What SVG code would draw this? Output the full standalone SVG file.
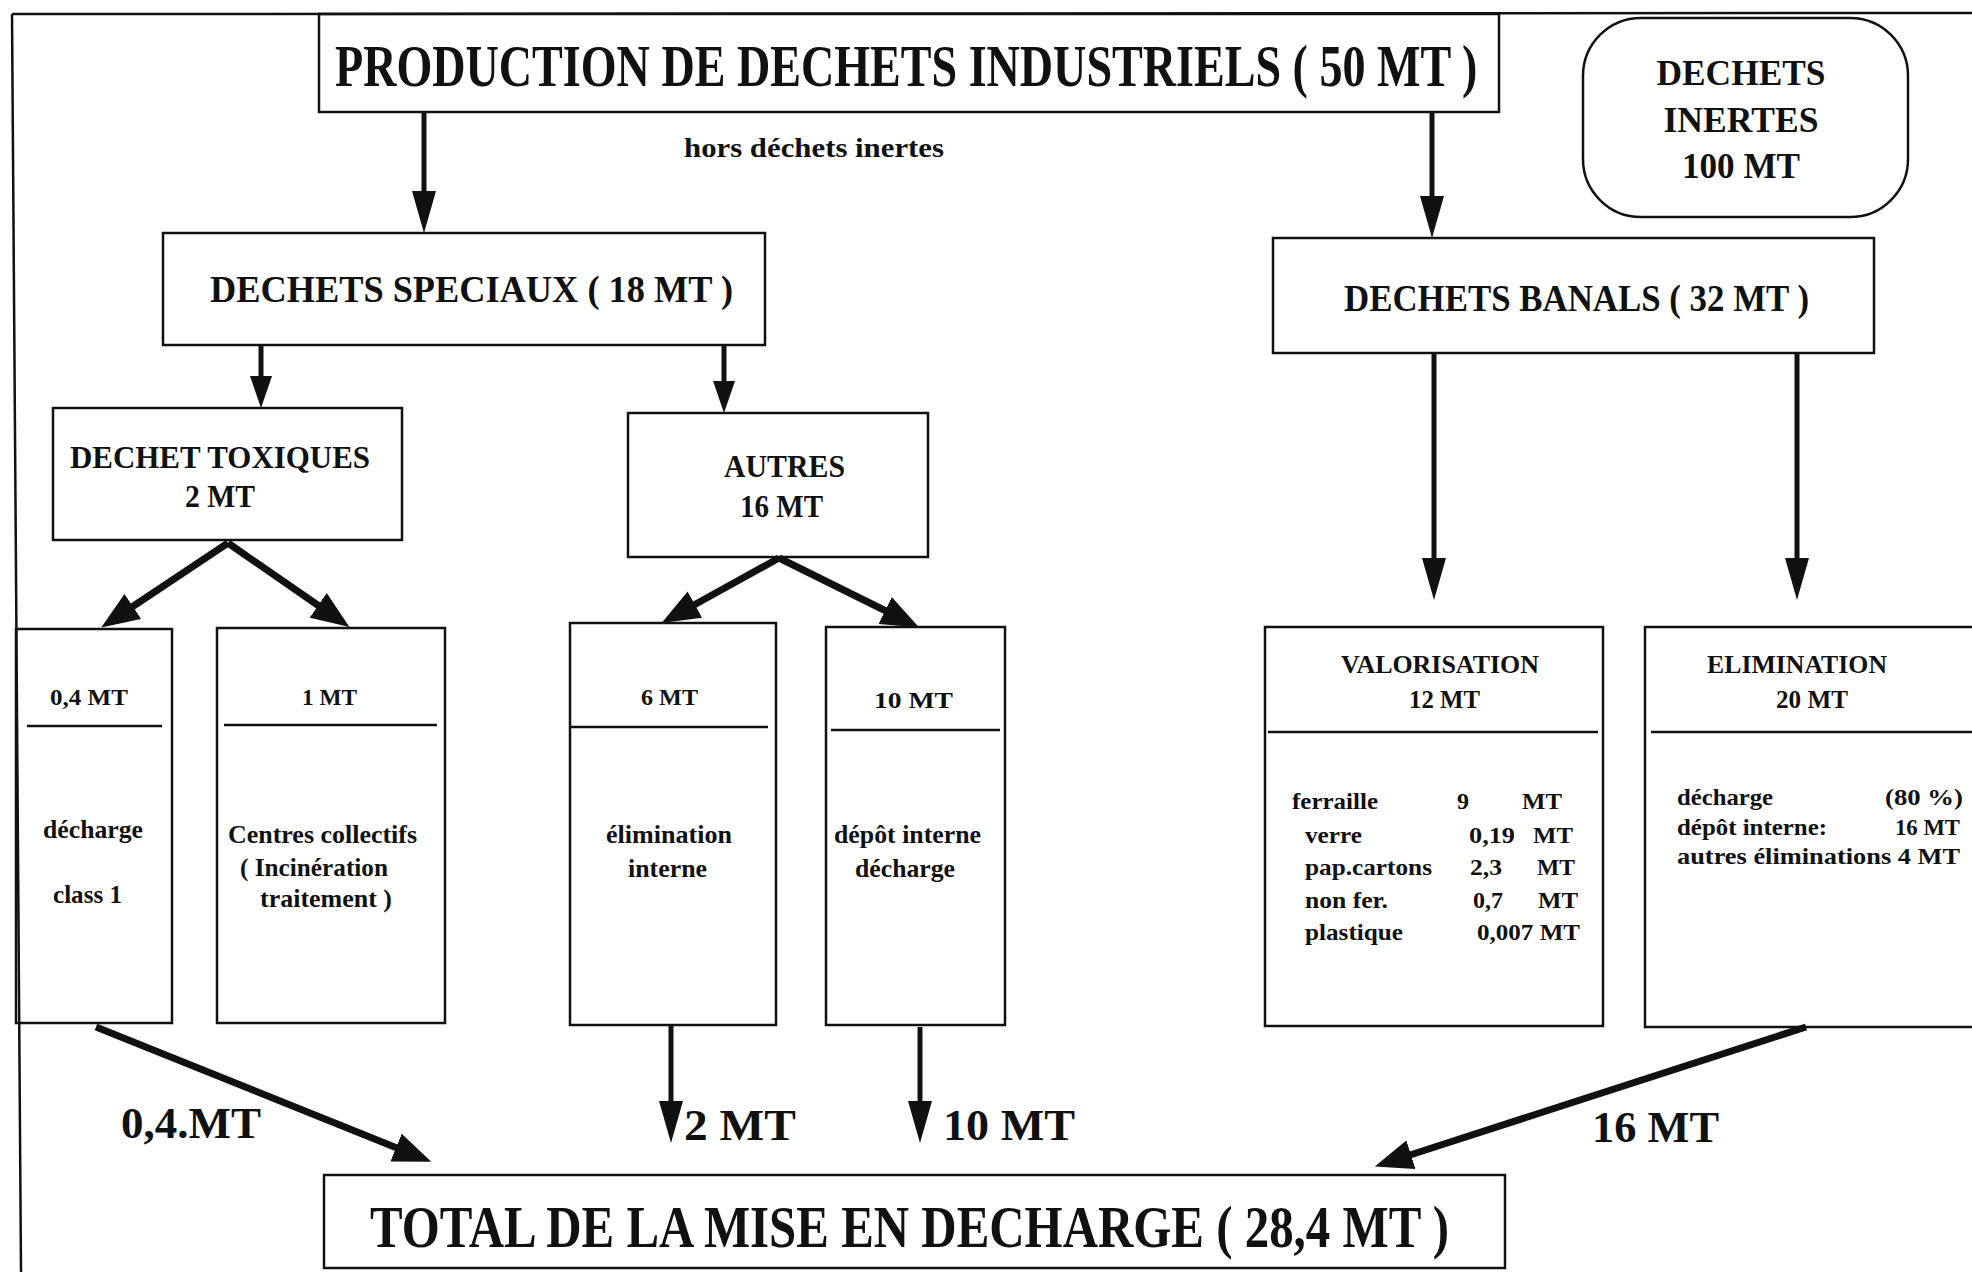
<svg xmlns="http://www.w3.org/2000/svg" width="1972" height="1272" viewBox="0 0 1972 1272">
<style>
.bx{fill:none;stroke:#111;stroke-width:2.5}
.t{font-family:"Liberation Serif","Times New Roman",serif;font-weight:bold;fill:#111}
.v{stroke:#111;stroke-width:5;fill:none}
.d{stroke:#111;stroke-width:7;fill:none}
</style>
<defs>
<marker id="av" markerUnits="userSpaceOnUse" viewBox="0 0 42 24" markerWidth="42" markerHeight="24" refX="1" refY="12" orient="auto"><path d="M0,0 L42,12 L0,24 z" fill="#111"/></marker>
<marker id="as" markerUnits="userSpaceOnUse" viewBox="0 0 32 22" markerWidth="32" markerHeight="22" refX="1" refY="11" orient="auto"><path d="M0,0 L32,11 L0,22 z" fill="#111"/></marker>
<marker id="ad" markerUnits="userSpaceOnUse" viewBox="0 0 38 30" markerWidth="38" markerHeight="30" refX="1" refY="15" orient="auto"><path d="M0,0 L38,15 L0,30 z" fill="#111"/></marker>
</defs>
<rect width="1972" height="1272" fill="#fff"/>
<g id="frame">
<line x1="12" y1="14" x2="1972" y2="13" stroke="#111" stroke-width="2.5"/>
<line x1="12" y1="14" x2="21" y2="1272" stroke="#111" stroke-width="2.5"/>
</g>
<g id="production">
<rect class="bx" x="319" y="14" width="1180" height="98"/>
<text class="t" transform="translate(335,86) scale(0.76,1)" x="0" y="0" font-size="60" textLength="1503" lengthAdjust="spacingAndGlyphs">PRODUCTION DE DECHETS INDUSTRIELS ( 50 MT )</text>
</g>
<g id="note"><text class="t" x="684" y="157" font-size="28" textLength="260" lengthAdjust="spacingAndGlyphs">hors déchets inertes</text></g>
<g id="inertes">
<rect class="bx" x="1583" y="18" width="325" height="199" rx="58" ry="58"/>
<text class="t" x="1741" y="85" font-size="36" text-anchor="middle" textLength="169" lengthAdjust="spacingAndGlyphs">DECHETS</text>
<text class="t" x="1741" y="132" font-size="36" text-anchor="middle" textLength="155" lengthAdjust="spacingAndGlyphs">INERTES</text>
<text class="t" x="1741" y="178" font-size="36" text-anchor="middle" textLength="118" lengthAdjust="spacingAndGlyphs">100 MT</text>
</g>
<g id="speciaux">
<rect class="bx" x="163" y="233" width="602" height="112"/>
<text class="t" x="210" y="302" font-size="38" textLength="523" lengthAdjust="spacingAndGlyphs">DECHETS SPECIAUX  ( 18 MT )</text>
</g>
<g id="banals">
<rect class="bx" x="1273" y="238" width="601" height="115"/>
<text class="t" x="1344" y="311" font-size="38" textLength="465" lengthAdjust="spacingAndGlyphs">DECHETS BANALS ( 32 MT )</text>
</g>
<g id="toxiques">
<rect class="bx" x="53" y="408" width="349" height="132"/>
<text class="t" x="70" y="468" font-size="32" textLength="300" lengthAdjust="spacingAndGlyphs">DECHET TOXIQUES</text>
<text class="t" x="185" y="507" font-size="32" textLength="70" lengthAdjust="spacingAndGlyphs">2 MT</text>
</g>
<g id="autres">
<rect class="bx" x="628" y="413" width="300" height="144"/>
<text class="t" x="724" y="477" font-size="32" textLength="121" lengthAdjust="spacingAndGlyphs">AUTRES</text>
<text class="t" x="740" y="517" font-size="32" textLength="83" lengthAdjust="spacingAndGlyphs">16 MT</text>
</g>
<g id="box-04">
<rect class="bx" x="16" y="629" width="156" height="394"/>
<line class="bx" x1="27" y1="726" x2="162" y2="726"/>
<text class="t" x="50" y="705" font-size="24" textLength="78" lengthAdjust="spacingAndGlyphs">0,4 MT</text>
<text class="t" x="43" y="838" font-size="25" textLength="100" lengthAdjust="spacingAndGlyphs">décharge</text>
<text class="t" x="53" y="903" font-size="25" textLength="69" lengthAdjust="spacingAndGlyphs">class 1</text>
</g>
<g id="box-1">
<rect class="bx" x="217" y="628" width="228" height="395"/>
<line class="bx" x1="224" y1="725" x2="437" y2="725"/>
<text class="t" x="302" y="705" font-size="24" textLength="55" lengthAdjust="spacingAndGlyphs">1 MT</text>
<text class="t" x="228" y="843" font-size="25" textLength="189" lengthAdjust="spacingAndGlyphs">Centres collectifs</text>
<text class="t" x="240" y="876" font-size="25" textLength="148" lengthAdjust="spacingAndGlyphs">( Incinération</text>
<text class="t" x="260" y="907" font-size="25" textLength="132" lengthAdjust="spacingAndGlyphs">traitement )</text>
</g>
<g id="box-6">
<rect class="bx" x="570" y="623" width="206" height="402"/>
<line class="bx" x1="570" y1="727" x2="768" y2="727"/>
<text class="t" x="641" y="705" font-size="24" textLength="57" lengthAdjust="spacingAndGlyphs">6 MT</text>
<text class="t" x="606" y="843" font-size="25" textLength="126" lengthAdjust="spacingAndGlyphs">élimination</text>
<text class="t" x="628" y="877" font-size="25" textLength="79" lengthAdjust="spacingAndGlyphs">interne</text>
</g>
<g id="box-10">
<rect class="bx" x="826" y="627" width="179" height="398"/>
<line class="bx" x1="831" y1="730" x2="1000" y2="730"/>
<text class="t" x="874" y="708" font-size="24" textLength="79" lengthAdjust="spacingAndGlyphs">10 MT</text>
<text class="t" x="834" y="843" font-size="25" textLength="147" lengthAdjust="spacingAndGlyphs">dépôt interne</text>
<text class="t" x="855" y="877" font-size="25" textLength="100" lengthAdjust="spacingAndGlyphs">décharge</text>
</g>
<g id="valorisation">
<rect class="bx" x="1265" y="627" width="338" height="399"/>
<line class="bx" x1="1268" y1="732" x2="1598" y2="732"/>
<text class="t" x="1341" y="673" font-size="25" textLength="198" lengthAdjust="spacingAndGlyphs">VALORISATION</text>
<text class="t" x="1409" y="708" font-size="25" textLength="71" lengthAdjust="spacingAndGlyphs">12 MT</text>
<g font-size="24">
<text class="t" x="1292" y="809" textLength="86" lengthAdjust="spacingAndGlyphs">ferraille</text>
<text class="t" x="1457" y="809">9</text>
<text class="t" x="1522" y="809" textLength="40" lengthAdjust="spacingAndGlyphs">MT</text>
<text class="t" x="1305" y="843" textLength="57" lengthAdjust="spacingAndGlyphs">verre</text>
<text class="t" x="1469" y="843" textLength="46" lengthAdjust="spacingAndGlyphs">0,19</text>
<text class="t" x="1533" y="843" textLength="40" lengthAdjust="spacingAndGlyphs">MT</text>
<text class="t" x="1305" y="875" textLength="127" lengthAdjust="spacingAndGlyphs">pap.cartons</text>
<text class="t" x="1470" y="875" textLength="32" lengthAdjust="spacingAndGlyphs">2,3</text>
<text class="t" x="1537" y="875" textLength="38" lengthAdjust="spacingAndGlyphs">MT</text>
<text class="t" x="1305" y="908" textLength="83" lengthAdjust="spacingAndGlyphs">non fer.</text>
<text class="t" x="1473" y="908" textLength="30" lengthAdjust="spacingAndGlyphs">0,7</text>
<text class="t" x="1538" y="908" textLength="40" lengthAdjust="spacingAndGlyphs">MT</text>
<text class="t" x="1305" y="940" textLength="98" lengthAdjust="spacingAndGlyphs">plastique</text>
<text class="t" x="1477" y="940" textLength="103" lengthAdjust="spacingAndGlyphs">0,007 MT</text>
</g>
</g>
<g id="elimination">
<rect class="bx" x="1645" y="627" width="340" height="400"/>
<line class="bx" x1="1651" y1="732" x2="1972" y2="732"/>
<text class="t" x="1707" y="673" font-size="25" textLength="180" lengthAdjust="spacingAndGlyphs">ELIMINATION</text>
<text class="t" x="1776" y="708" font-size="25" textLength="72" lengthAdjust="spacingAndGlyphs">20 MT</text>
<g font-size="24">
<text class="t" x="1677" y="805" textLength="96" lengthAdjust="spacingAndGlyphs">décharge</text>
<text class="t" x="1885" y="805" textLength="78" lengthAdjust="spacingAndGlyphs">(80 %)</text>
<text class="t" x="1677" y="835" textLength="150" lengthAdjust="spacingAndGlyphs">dépôt interne:</text>
<text class="t" x="1895" y="835" textLength="65" lengthAdjust="spacingAndGlyphs">16 MT</text>
<text class="t" x="1677" y="864" textLength="283" lengthAdjust="spacingAndGlyphs">autres éliminations 4 MT</text>
</g>
</g>
<g id="total">
<rect class="bx" x="324" y="1175" width="1181" height="93"/>
<text class="t" transform="translate(370,1247) scale(0.807,1)" x="0" y="0" font-size="60" textLength="1337" lengthAdjust="spacingAndGlyphs">TOTAL DE LA MISE EN DECHARGE ( 28,4 MT )</text>
</g>
<g id="flow-labels">
<text class="t" x="121" y="1138" font-size="44" textLength="140" lengthAdjust="spacingAndGlyphs">0,4.MT</text>
<text class="t" x="684" y="1140" font-size="44" textLength="112" lengthAdjust="spacingAndGlyphs">2 MT</text>
<text class="t" x="943" y="1140" font-size="44" textLength="132" lengthAdjust="spacingAndGlyphs">10 MT</text>
<text class="t" x="1592" y="1142" font-size="44" textLength="127" lengthAdjust="spacingAndGlyphs">16 MT</text>
</g>
<g id="connectors">
<line class="v" x1="424" y1="112" x2="424" y2="192" marker-end="url(#av)"/>
<line class="v" x1="1432" y1="112" x2="1432" y2="197" marker-end="url(#av)"/>
<line class="v" x1="261" y1="345" x2="261" y2="377" marker-end="url(#as)"/>
<line class="v" x1="724" y1="345" x2="724" y2="382" marker-end="url(#as)"/>
<line class="d" x1="228" y1="543" x2="132" y2="607" marker-end="url(#ad)"/>
<line class="d" x1="228" y1="543" x2="319" y2="606" marker-end="url(#ad)"/>
<line class="d" x1="779" y1="558" x2="694" y2="605" marker-end="url(#ad)"/>
<line class="d" x1="779" y1="558" x2="886" y2="611" marker-end="url(#ad)"/>
<line class="v" x1="1434" y1="353" x2="1434" y2="559" marker-end="url(#av)"/>
<line class="v" x1="1797" y1="353" x2="1797" y2="559" marker-end="url(#av)"/>
<line class="d" x1="96" y1="1027" x2="397" y2="1148" marker-end="url(#ad)"/>
<line class="v" x1="671" y1="1025" x2="671" y2="1102" marker-end="url(#av)"/>
<line class="v" x1="920" y1="1027" x2="920" y2="1102" marker-end="url(#av)"/>
<line class="d" x1="1806" y1="1027" x2="1410" y2="1155" marker-end="url(#ad)"/>
</g>
</svg>
